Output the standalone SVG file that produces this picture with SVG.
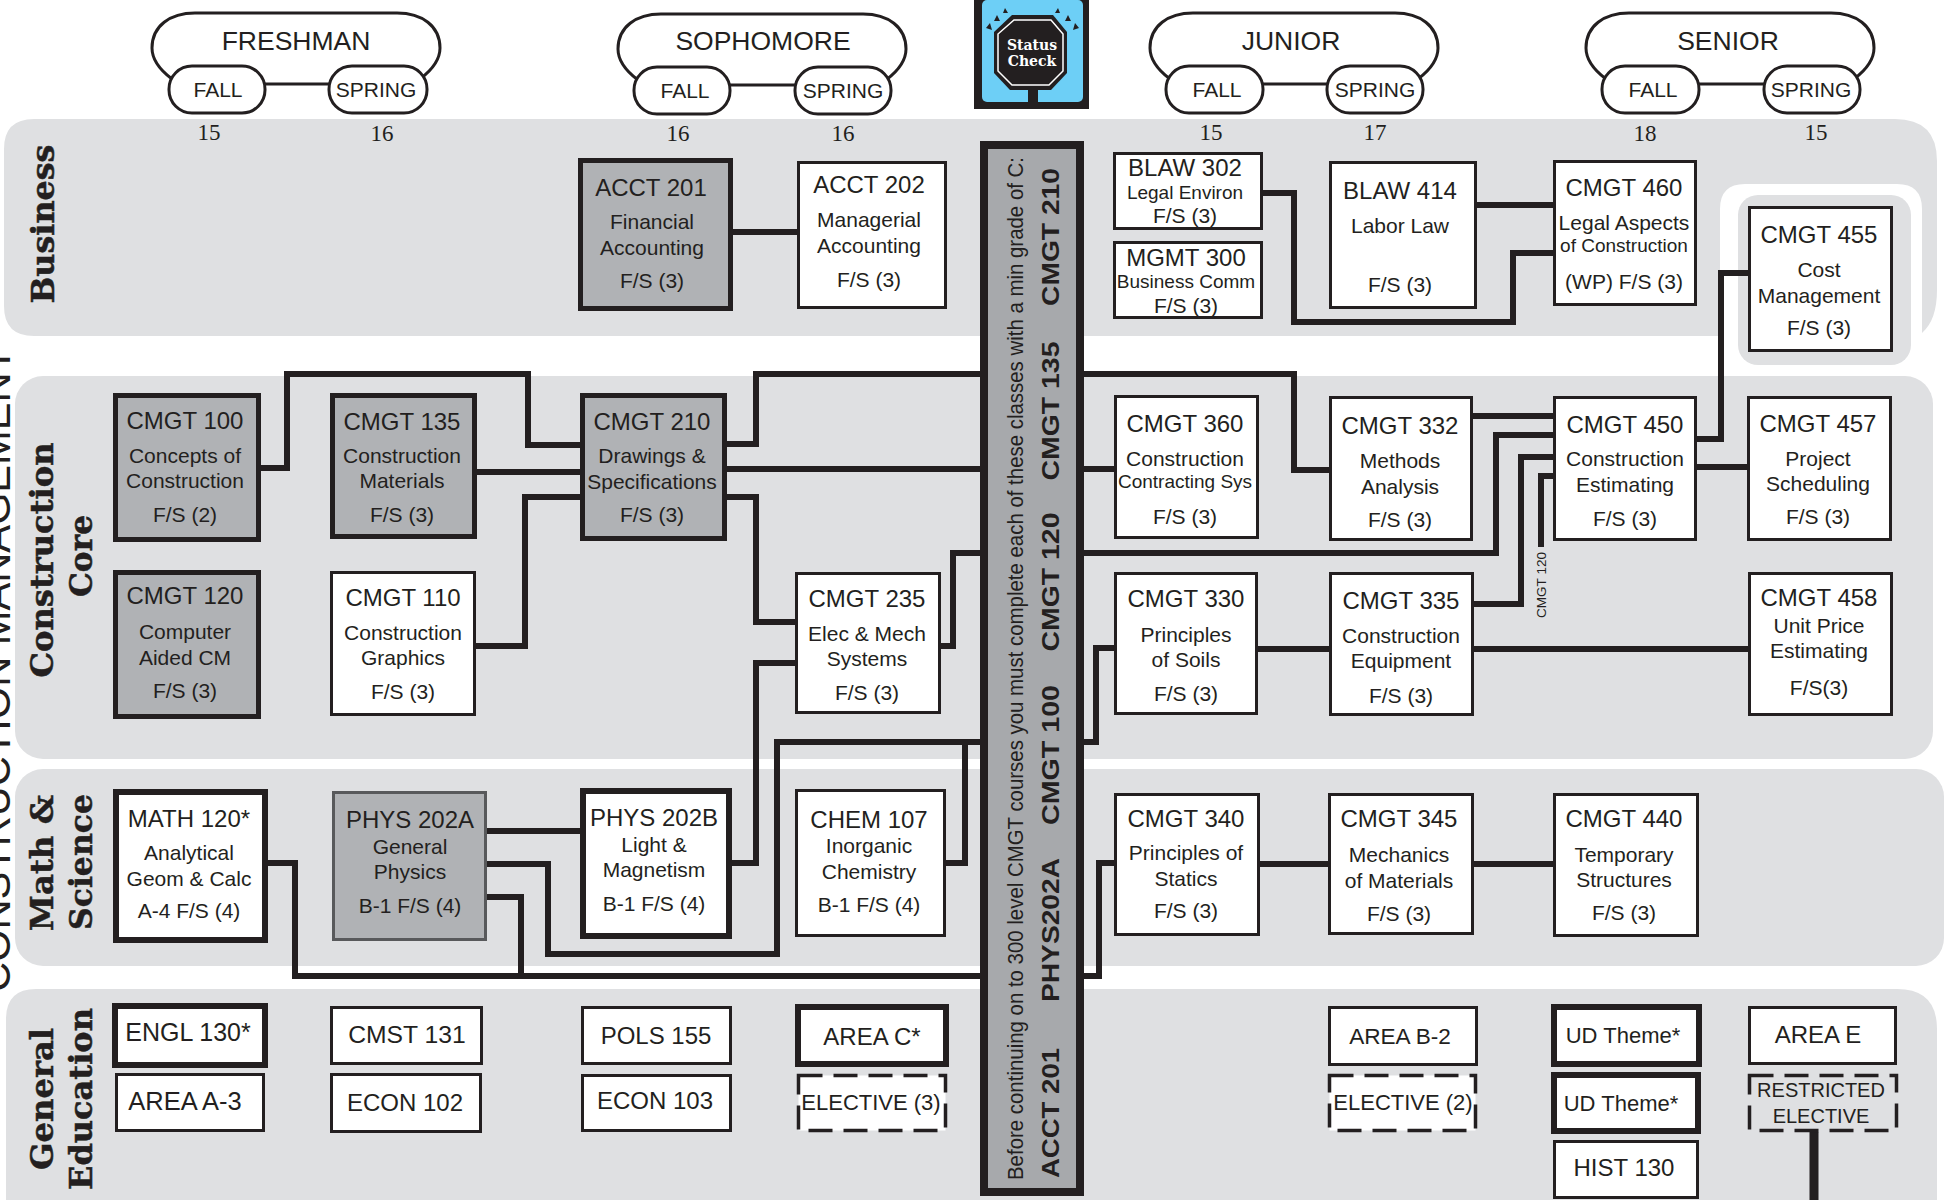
<svg xmlns="http://www.w3.org/2000/svg" width="1944" height="1200" viewBox="0 0 1944 1200">
<style>
text{font-family:"Liberation Sans",Arial,sans-serif;fill:#231f20;text-anchor:middle}
.b{fill:#dfe0e2}
.o{fill:#fff;stroke:#231f20;stroke-width:3}
.y{font-size:26.500px}
.p{font-size:21px}
.n{font-family:"Liberation Serif","Times New Roman",serif;font-size:23px}
.h{font-family:"DejaVu Serif",serif;font-weight:bold;font-size:32px;stroke:#231f20;stroke-width:.5}
.t{font-size:24px}
.s{font-size:21px}
.m{font-size:19px}
.w{fill:#fff;stroke:#231f20;stroke-width:3}
.k{fill:#fff;stroke:#231f20;stroke-width:6}
.g{fill:#b0b2b5;stroke:#231f20;stroke-width:5}
.f{fill:#b0b2b5;stroke:#58595b;stroke-width:3}
.d{fill:#fff;stroke:#231f20;stroke-width:3.5;stroke-dasharray:24 11}
.e{fill:#dfe0e2;stroke:#231f20;stroke-width:3.5;stroke-dasharray:24 11}
.c{fill:none;stroke:#231f20;stroke-width:6;stroke-linejoin:miter}
.r{font-weight:bold;font-size:24px}
</style>
<g id="bands">
<path class="b" d="M34 119H1895Q1937 119 1937 161V290Q1937 320 1922 333V209Q1922 184 1897 184H1745Q1720 184 1720 209V336H34Q4 336 4 306V149Q4 119 34 119Z"/>
<rect class="b" x="1738" y="195" width="173" height="170" rx="20"/>
<rect class="b" x="15" y="376" width="1918" height="383" rx="28"/>
<rect class="b" x="15" y="769" width="1929" height="197" rx="28"/>
<path class="b" d="M36 989H1897Q1937 989 1937 1029V1200H6V1019Q6 989 36 989Z"/>
</g>
<text transform="translate(10,992) rotate(-90)" style="font-size:42px;text-anchor:start" textLength="645" lengthAdjust="spacingAndGlyphs">CONSTRUCTION MANAGEMENT</text>
<g id="band-labels">
<text class="h" transform="translate(54,224) rotate(-90)" textLength="159" lengthAdjust="spacingAndGlyphs">Business</text>
<text class="h" transform="translate(53,560) rotate(-90)" textLength="235" lengthAdjust="spacingAndGlyphs">Construction</text>
<text class="h" transform="translate(92,556) rotate(-90)" textLength="82" lengthAdjust="spacingAndGlyphs">Core</text>
<text class="h" transform="translate(53,863) rotate(-90)" textLength="136" lengthAdjust="spacingAndGlyphs">Math &amp;</text>
<text class="h" transform="translate(92,862) rotate(-90)" textLength="136" lengthAdjust="spacingAndGlyphs">Science</text>
<text class="h" transform="translate(53,1099) rotate(-90)" textLength="142" lengthAdjust="spacingAndGlyphs">General</text>
<text class="h" transform="translate(92,1099) rotate(-90)" textLength="182" lengthAdjust="spacingAndGlyphs">Education</text>
</g>
<g id="year-freshman">
<path class="o" d="M172 79C160 70 152 60 152 48C152 26 170 13 195 13H397C422 13 440 26 440 48C440 60 432 70 420 79"/>
<path class="c" style="stroke-width:3" d="M265 84H329"/>
<rect class="o" x="169" y="66" width="96" height="47" rx="23"/>
<rect class="o" x="329" y="66" width="98" height="47" rx="23"/>
<text class="y" x="296" y="50">FRESHMAN</text>
<text class="p" x="218" y="97">FALL</text>
<text class="p" x="376" y="97">SPRING</text>
</g>
<g id="year-sophomore">
<path class="o" d="M638 80C626 71 618 61 618 49C618 27 636 14 661 14H863C888 14 906 27 906 49C906 61 898 71 886 80"/>
<path class="c" style="stroke-width:3" d="M730 85H795"/>
<rect class="o" x="634" y="67" width="96" height="47" rx="23"/>
<rect class="o" x="795" y="67" width="96" height="47" rx="23"/>
<text class="y" x="763" y="50">SOPHOMORE</text>
<text class="p" x="685" y="98">FALL</text>
<text class="p" x="843" y="98">SPRING</text>
</g>
<g id="year-junior">
<path class="o" d="M1170 79C1158 70 1150 60 1150 48C1150 26 1168 13 1193 13H1395C1420 13 1438 26 1438 48C1438 60 1430 70 1418 79"/>
<path class="c" style="stroke-width:3" d="M1263 84H1327"/>
<rect class="o" x="1166" y="66" width="97" height="47" rx="23"/>
<rect class="o" x="1327" y="66" width="96" height="47" rx="23"/>
<text class="y" x="1291" y="50">JUNIOR</text>
<text class="p" x="1217" y="97">FALL</text>
<text class="p" x="1375" y="97">SPRING</text>
</g>
<g id="year-senior">
<path class="o" d="M1606 79C1594 70 1586 60 1586 48C1586 26 1604 13 1629 13H1831C1856 13 1874 26 1874 48C1874 60 1866 70 1854 79"/>
<path class="c" style="stroke-width:3" d="M1699 84H1764"/>
<rect class="o" x="1602" y="66" width="97" height="47" rx="23"/>
<rect class="o" x="1764" y="66" width="96" height="47" rx="23"/>
<text class="y" x="1728" y="50">SENIOR</text>
<text class="p" x="1653" y="97">FALL</text>
<text class="p" x="1811" y="97">SPRING</text>
</g>
<g id="credits">
<text class="n" x="209" y="140">15</text><text class="n" x="382" y="141">16</text><text class="n" x="678" y="141">16</text><text class="n" x="843" y="141">16</text>
<text class="n" x="1211" y="140">15</text><text class="n" x="1375" y="140">17</text><text class="n" x="1645" y="141">18</text><text class="n" x="1816" y="140">15</text>
</g>
<g id="status-check">
<rect x="974" y="0" width="115" height="109" fill="#231f20"/>
<rect x="982" y="0" width="101" height="102" rx="5" fill="#6dcff6"/>
<path d="M1028 88h10v16h-10z" fill="#231f20"/>
<path d="M1012 15H1053L1067 32V73L1051 90H1010L994 73V32Z" fill="#231f20"/>
<path d="M1014 20H1051L1063 34V71L1049 85H1012L998 71V34Z" fill="none" stroke="#fff" stroke-width="1.5"/>
<path d="M1005 8l-2 5 5 0zM997 15l-3 6 6 0zM990 23l-4 5 6 2zM1058 8l2 5-5 0zM1068 15l3 6-6 0zM1075 23l4 5-6 2z" fill="#231f20"/>
<text x="1032" y="50" style="font-family:'DejaVu Serif',serif;font-weight:bold;font-size:14px;fill:#fff">Status</text>
<text x="1032" y="66" style="font-family:'DejaVu Serif',serif;font-weight:bold;font-size:14px;fill:#fff">Check</text>
</g>
<g id="connectors">
<path class="c" d="M733 232H797"/>
<path class="c" d="M1263 193H1294V322H1513V253H1553"/>
<path class="c" d="M1477 205H1553"/>
<path class="c" d="M261 468H287V374H528V445H580"/>
<path class="c" d="M727 444H756V374H980"/>
<path class="c" d="M1084 374H1294V470H1329"/>
<path class="c" d="M477 472H580"/>
<path class="c" d="M476 646H525V497H580"/>
<path class="c" d="M727 469H980"/>
<path class="c" d="M1084 469H1114"/>
<path class="c" d="M727 497H756V622H795"/>
<path class="c" d="M941 646H953V553H980"/>
<path class="c" d="M1084 553H1496V435H1553"/>
<path class="c" d="M1473 416H1553"/>
<path class="c" d="M1474 604H1521V457H1553"/>
<path class="c" d="M1553 476H1541V547"/>
<path class="c" d="M1697 439H1721V273H1748"/>
<path class="c" d="M1697 467H1747"/>
<path class="c" d="M1258 649H1329"/>
<path class="c" d="M1474 649H1748"/>
<path class="c" d="M1084 742H1096V648H1114"/>
<path class="c" d="M732 863H756V663H795"/>
<path class="c" d="M487 864H548V954H777V742H980"/>
<path class="c" d="M946 863H965V742"/>
<path class="c" d="M268 863H295V976H980"/>
<path class="c" d="M1084 976H1099V863H1114"/>
<path class="c" d="M487 897H521V976"/>
<path class="c" d="M487 831H580"/>
<path class="c" d="M1260 864H1328"/>
<path class="c" d="M1474 864H1553"/>
<path class="c" style="stroke-width:9" d="M1814 1132V1200"/>
</g>
<text transform="translate(1546,585) rotate(-90)" style="font-size:13.500px" textLength="66" lengthAdjust="spacingAndGlyphs">CMGT 120</text>
<g id="status-bar">
<rect x="984" y="145" width="96" height="1047" fill="#a7a9ac" stroke="#231f20" stroke-width="8"/>
<text transform="translate(1023,668.500) rotate(-90)" style="font-size:22px" textLength="1023" lengthAdjust="spacingAndGlyphs">Before continuing on to 300 level CMGT courses you must complete each of these classes with a min grade of C:</text>
<text class="r" transform="translate(1059,237) rotate(-90)" textLength="138" lengthAdjust="spacingAndGlyphs">CMGT 210</text>
<text class="r" transform="translate(1059,411) rotate(-90)" textLength="139" lengthAdjust="spacingAndGlyphs">CMGT 135</text>
<text class="r" transform="translate(1059,582) rotate(-90)" textLength="139" lengthAdjust="spacingAndGlyphs">CMGT 120</text>
<text class="r" transform="translate(1059,755) rotate(-90)" textLength="140" lengthAdjust="spacingAndGlyphs">CMGT 100</text>
<text class="r" transform="translate(1059,930) rotate(-90)" textLength="144" lengthAdjust="spacingAndGlyphs">PHYS202A</text>
<text class="r" transform="translate(1059,1113) rotate(-90)" textLength="130" lengthAdjust="spacingAndGlyphs">ACCT 201</text>
</g>
<g id="acct201"><rect class="g" x="580.500" y="160.500" width="150" height="148"/><text class="t" x="651" y="196">ACCT 201</text><text class="s" x="652" y="229">Financial</text><text class="s" x="652" y="255">Accounting</text><text class="s" x="652" y="288">F/S (3)</text></g>
<g id="acct202"><rect class="w" x="798.500" y="162.500" width="147" height="145"/><text class="t" x="869" y="193">ACCT 202</text><text class="s" x="869" y="227">Managerial</text><text class="s" x="869" y="253">Accounting</text><text class="s" x="869" y="287">F/S (3)</text></g>
<g id="blaw302"><rect class="w" x="1114.500" y="153.500" width="147" height="75"/><text class="t" x="1185" y="176">BLAW 302</text><text class="m" x="1185" y="199">Legal Environ</text><text class="s" x="1185" y="223">F/S (3)</text></g>
<g id="mgmt300"><rect class="w" x="1114.500" y="242.500" width="147" height="75"/><text class="t" x="1186" y="266">MGMT 300</text><text class="m" x="1186" y="288">Business Comm</text><text class="s" x="1186" y="313">F/S (3)</text></g>
<g id="blaw414"><rect class="w" x="1330.500" y="162.500" width="145" height="145"/><text class="t" x="1400" y="199">BLAW 414</text><text class="s" x="1400" y="233">Labor Law</text><text class="s" x="1400" y="292">F/S (3)</text></g>
<g id="cmgt460"><rect class="w" x="1554.500" y="161.500" width="141" height="143"/><text class="t" x="1624" y="196">CMGT 460</text><text class="s" x="1624" y="230">Legal Aspects</text><text class="m" x="1624" y="252">of Construction</text><text class="s" x="1624" y="289">(WP) F/S (3)</text></g>
<g id="cmgt455"><rect class="w" x="1749.500" y="207.500" width="142" height="143"/><text class="t" x="1819" y="243">CMGT 455</text><text class="s" x="1819" y="277">Cost</text><text class="s" x="1819" y="303">Management</text><text class="s" x="1819" y="335">F/S (3)</text></g>
<g id="cmgt100"><rect class="g" x="115.500" y="395.500" width="143" height="144"/><text class="t" x="185" y="429">CMGT 100</text><text class="s" x="185" y="463">Concepts of</text><text class="s" x="185" y="488">Construction</text><text class="s" x="185" y="522">F/S (2)</text></g>
<g id="cmgt135"><rect class="g" x="332.500" y="395.500" width="142" height="141"/><text class="t" x="402" y="430">CMGT 135</text><text class="s" x="402" y="463">Construction</text><text class="s" x="402" y="488">Materials</text><text class="s" x="402" y="522">F/S (3)</text></g>
<g id="cmgt210"><rect class="g" x="582.500" y="395.500" width="142" height="143"/><text class="t" x="652" y="430">CMGT 210</text><text class="s" x="652" y="463">Drawings &amp;</text><text class="s" x="652" y="489">Specifications</text><text class="s" x="652" y="522">F/S (3)</text></g>
<g id="cmgt120"><rect class="g" x="115.500" y="572.500" width="143" height="144"/><text class="t" x="185" y="604">CMGT 120</text><text class="s" x="185" y="639">Computer</text><text class="s" x="185" y="665">Aided CM</text><text class="s" x="185" y="698">F/S (3)</text></g>
<g id="cmgt110"><rect class="w" x="331.500" y="572.500" width="143" height="142"/><text class="t" x="403" y="606">CMGT 110</text><text class="s" x="403" y="640">Construction</text><text class="s" x="403" y="665">Graphics</text><text class="s" x="403" y="699">F/S (3)</text></g>
<g id="cmgt235"><rect class="w" x="796.500" y="573.500" width="143" height="139"/><text class="t" x="867" y="607">CMGT 235</text><text class="s" x="867" y="641">Elec &amp; Mech</text><text class="s" x="867" y="666">Systems</text><text class="s" x="867" y="700">F/S (3)</text></g>
<g id="cmgt360"><rect class="w" x="1115.500" y="396.500" width="142" height="141"/><text class="t" x="1185" y="432">CMGT 360</text><text class="s" x="1185" y="466">Construction</text><text class="m" x="1185" y="488">Contracting Sys</text><text class="s" x="1185" y="524">F/S (3)</text></g>
<g id="cmgt332"><rect class="w" x="1330.500" y="397.500" width="141" height="142"/><text class="t" x="1400" y="434">CMGT 332</text><text class="s" x="1400" y="468">Methods</text><text class="s" x="1400" y="494">Analysis</text><text class="s" x="1400" y="527">F/S (3)</text></g>
<g id="cmgt450"><rect class="w" x="1554.500" y="397.500" width="141" height="142"/><text class="t" x="1625" y="433">CMGT 450</text><text class="s" x="1625" y="466">Construction</text><text class="s" x="1625" y="492">Estimating</text><text class="s" x="1625" y="526">F/S (3)</text></g>
<g id="cmgt457"><rect class="w" x="1748.500" y="397.500" width="142" height="142"/><text class="t" x="1818" y="432">CMGT 457</text><text class="s" x="1818" y="466">Project</text><text class="s" x="1818" y="491">Scheduling</text><text class="s" x="1818" y="524">F/S (3)</text></g>
<g id="cmgt330"><rect class="w" x="1115.500" y="573.500" width="141" height="140"/><text class="t" x="1186" y="607">CMGT 330</text><text class="s" x="1186" y="642">Principles</text><text class="s" x="1186" y="667">of Soils</text><text class="s" x="1186" y="701">F/S (3)</text></g>
<g id="cmgt335"><rect class="w" x="1330.500" y="573.500" width="142" height="141"/><text class="t" x="1401" y="609">CMGT 335</text><text class="s" x="1401" y="643">Construction</text><text class="s" x="1401" y="668">Equipment</text><text class="s" x="1401" y="703">F/S (3)</text></g>
<g id="cmgt458"><rect class="w" x="1749.500" y="573.500" width="142" height="141"/><text class="t" x="1819" y="606">CMGT 458</text><text class="s" x="1819" y="633">Unit Price</text><text class="s" x="1819" y="658">Estimating</text><text class="s" x="1819" y="695">F/S(3)</text></g>
<g id="math120"><rect class="k" x="116" y="792" width="149" height="148"/><text class="t" x="189" y="827">MATH 120*</text><text class="s" x="189" y="860">Analytical</text><text class="s" x="189" y="886">Geom &amp; Calc</text><text class="s" x="189" y="918">A-4 F/S (4)</text></g>
<g id="phys202a"><rect class="f" x="333.500" y="792.500" width="152" height="147"/><text class="t" x="410" y="828">PHYS 202A</text><text class="s" x="410" y="854">General</text><text class="s" x="410" y="879">Physics</text><text class="s" x="410" y="913">B-1 F/S (4)</text></g>
<g id="phys202b"><rect class="k" x="583" y="791" width="146" height="145"/><text class="t" x="654" y="826">PHYS 202B</text><text class="s" x="654" y="852">Light &amp;</text><text class="s" x="654" y="877">Magnetism</text><text class="s" x="654" y="911">B-1 F/S (4)</text></g>
<g id="chem107"><rect class="w" x="796.500" y="790.500" width="148" height="145"/><text class="t" x="869" y="828">CHEM 107</text><text class="s" x="869" y="853">Inorganic</text><text class="s" x="869" y="879">Chemistry</text><text class="s" x="869" y="912">B-1 F/S (4)</text></g>
<g id="cmgt340"><rect class="w" x="1115.500" y="794.500" width="143" height="140"/><text class="t" x="1186" y="827">CMGT 340</text><text class="s" x="1186" y="860">Principles of</text><text class="s" x="1186" y="886">Statics</text><text class="s" x="1186" y="918">F/S (3)</text></g>
<g id="cmgt345"><rect class="w" x="1329.500" y="794.500" width="143" height="139"/><text class="t" x="1399" y="827">CMGT 345</text><text class="s" x="1399" y="862">Mechanics</text><text class="s" x="1399" y="888">of Materials</text><text class="s" x="1399" y="921">F/S (3)</text></g>
<g id="cmgt440"><rect class="w" x="1554.500" y="794.500" width="143" height="141"/><text class="t" x="1624" y="827">CMGT 440</text><text class="s" x="1624" y="862">Temporary</text><text class="s" x="1624" y="887">Structures</text><text class="s" x="1624" y="920">F/S (3)</text></g>
<g id="engl130"><rect class="k" x="115" y="1006" width="150" height="59"/><text class="t" x="188" y="1041" style="font-size:25px">ENGL 130*</text></g>
<g id="areaa3"><rect class="w" x="116.500" y="1074.500" width="147" height="56"/><text class="t" x="185" y="1110" style="font-size:25.500px">AREA A-3</text></g>
<g id="cmst131"><rect class="w" x="331.500" y="1007.500" width="150" height="56"/><text class="t" x="407" y="1043" style="font-size:24.700px">CMST 131</text></g>
<g id="econ102"><rect class="w" x="331.500" y="1074.500" width="149" height="57"/><text class="t" x="405" y="1111">ECON 102</text></g>
<g id="pols155"><rect class="w" x="582.500" y="1007.500" width="148" height="56"/><text class="t" x="656" y="1044">POLS 155</text></g>
<g id="econ103"><rect class="w" x="582.500" y="1075.500" width="148" height="55"/><text class="t" x="655" y="1109">ECON 103</text></g>
<g id="areac"><rect class="k" x="798" y="1007" width="148" height="57"/><text class="t" x="872" y="1045">AREA C*</text></g>
<g id="elective3"><rect class="d" x="798.500" y="1075.500" width="147" height="55"/><text class="s" x="871" y="1110" style="font-size:22px">ELECTIVE (3)</text></g>
<g id="areab2"><rect class="w" x="1329.500" y="1007.500" width="147" height="57"/><text class="t" x="1400" y="1044" style="font-size:22.600px">AREA B-2</text></g>
<g id="elective2"><rect class="d" x="1329.500" y="1075.500" width="146" height="55"/><text class="s" x="1403" y="1110" style="font-size:22px">ELECTIVE (2)</text></g>
<g id="udtheme1"><rect class="k" x="1554" y="1007" width="145" height="57"/><text class="t" x="1623" y="1043" style="font-size:22px">UD Theme*</text></g>
<g id="udtheme2"><rect class="k" x="1554" y="1075" width="144" height="56"/><text class="t" x="1621" y="1111" style="font-size:22px">UD Theme*</text></g>
<g id="hist130"><rect class="w" x="1554.500" y="1141.500" width="143" height="56"/><text class="t" x="1624" y="1176">HIST 130</text></g>
<g id="areae"><rect class="w" x="1749.500" y="1007.500" width="146" height="56"/><text class="t" x="1818" y="1043">AREA E</text></g>
<g id="restricted"><rect class="e" x="1749.500" y="1075.500" width="147" height="55"/><text class="s" x="1821" y="1097" style="font-size:20px">RESTRICTED</text><text class="s" x="1821" y="1123" style="font-size:20px">ELECTIVE</text></g>
</svg>
